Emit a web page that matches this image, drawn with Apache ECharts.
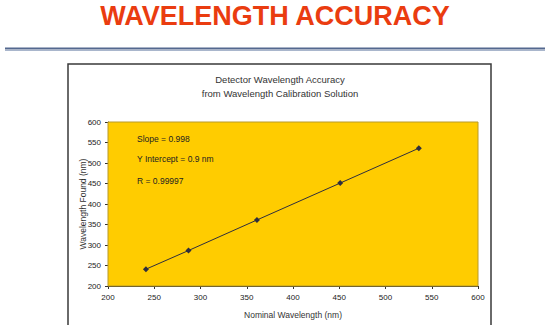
<!DOCTYPE html>
<html>
<head>
<meta charset="utf-8">
<script src="https://cdn.jsdelivr.net/npm/echarts@6/dist/echarts.min.js"></script>
<style>
html,body{margin:0;padding:0;background:#fff;}
#chart{width:550px;height:325px;}
</style>
</head>
<body>
<div id="chart"></div>
<script>
var pageTitle = "WAVELENGTH ACCURACY";
var chartTitleLines = ["Detector Wavelength Accuracy", "from Wavelength Calibration Solution"];
var xAxisName = "Nominal Wavelength (nm)";
var yAxisName = "Wavelength Found (nm)";
var annotations = ["Slope = 0.998", "Y Intercept = 0.9 nm", "R = 0.99997"];
var nominal = [241, 287, 361, 451, 536];
var found = [241, 286.5, 361, 451, 536];
var axisMin = 200, axisMax = 600, axisStep = 50;

var points = nominal.map(function (x, i) { return [x, found[i]]; });
var font = "Liberation Sans, Arial, sans-serif";

var chart = echarts.init(document.getElementById('chart'), null, {renderer: 'svg'});
chart.setOption({
  animation: false,
  backgroundColor: '#fff',
  graphic: [
    {type: 'rect', z: 0, shape: {x: 68, y: 64, width: 423, height: 300},
     style: {fill: '#fff', stroke: '#3a3a3a', lineWidth: 1.5}},
    {type: 'line', z: 1, shape: {x1: 5, y1: 48.5, x2: 545, y2: 48.5},
     style: {stroke: '#54688f', lineWidth: 2}},
    {type: 'line', z: 1, shape: {x1: 5, y1: 50.5, x2: 545, y2: 50.5},
     style: {stroke: '#a9b6cc', lineWidth: 1}},
    {type: 'text', z: 5, x: 275, y: 16,
     style: {text: pageTitle, fill: '#ea3c10', font: 'bold 27px ' + font, textAlign: 'center', textVerticalAlign: 'middle'}},
    {type: 'text', z: 5, x: 280, y: 79,
     style: {text: chartTitleLines[0], fill: '#333', font: '9.5px ' + font, textAlign: 'center', textVerticalAlign: 'middle'}},
    {type: 'text', z: 5, x: 280, y: 93,
     style: {text: chartTitleLines[1], fill: '#333', font: '9.5px ' + font, textAlign: 'center', textVerticalAlign: 'middle'}},
    {type: 'text', z: 5, x: 137, y: 139,
     style: {text: annotations[0], fill: '#222', font: '8.5px ' + font, textVerticalAlign: 'middle'}},
    {type: 'text', z: 5, x: 137, y: 159,
     style: {text: annotations[1], fill: '#222', font: '8.5px ' + font, textVerticalAlign: 'middle'}},
    {type: 'text', z: 5, x: 137, y: 181,
     style: {text: annotations[2], fill: '#222', font: '8.5px ' + font, textVerticalAlign: 'middle'}},
    {type: 'text', z: 5, x: 83, y: 204, rotation: Math.PI / 2,
     style: {text: yAxisName, fill: '#333', font: '8.5px ' + font, textAlign: 'center', textVerticalAlign: 'middle'}}
  ],
  grid: {left: 108, top: 122, right: 72, bottom: 39, show: true,
         backgroundColor: '#ffcc00', borderColor: '#b89a2a', borderWidth: 1, z: 2},
  xAxis: {
    type: 'value', min: axisMin, max: axisMax, interval: axisStep,
    name: xAxisName, nameLocation: 'middle', nameGap: 24,
    nameTextStyle: {fontFamily: font, fontSize: 8.5, color: '#333'},
    axisLine: {lineStyle: {color: '#333', width: 1}},
    axisTick: {show: true, length: 3, lineStyle: {color: '#333'}},
    axisLabel: {fontFamily: font, fontSize: 8, color: '#222', margin: 7},
    splitLine: {show: false}
  },
  yAxis: {
    type: 'value', min: axisMin, max: axisMax, interval: axisStep,
    axisLine: {show: true, lineStyle: {color: '#333', width: 1}},
    axisTick: {show: true, length: 3, lineStyle: {color: '#333'}},
    axisLabel: {fontFamily: font, fontSize: 8, color: '#222', margin: 7},
    splitLine: {show: false}
  },
  series: [{
    type: 'line', data: points, z: 4,
    symbol: 'diamond', symbolSize: 6,
    lineStyle: {color: '#2e2e3e', width: 1},
    itemStyle: {color: '#2e2e3e'}
  }]
});
</script>
</body>
</html>
